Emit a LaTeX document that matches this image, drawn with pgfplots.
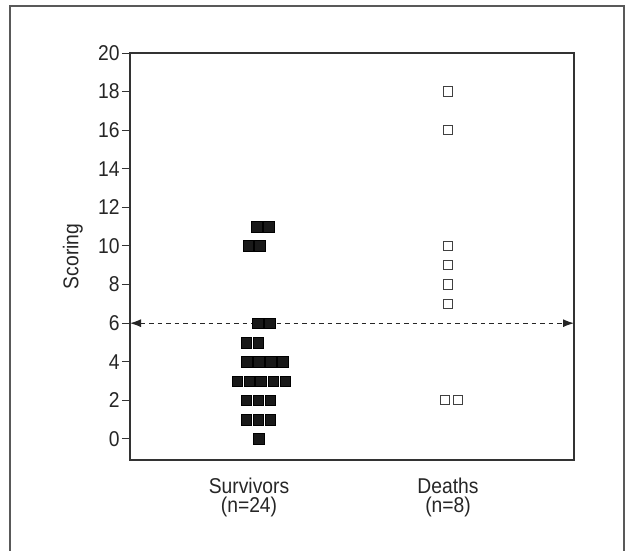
\documentclass[border=0pt]{standalone}
\usepackage{fontspec}
\setmainfont{Liberation Sans}[FakeStretch=0.9]
\usepackage{pgfplots}
\pgfplotsset{compat=1.18}
\usetikzlibrary{arrows.meta}

\begin{document}
\begin{tikzpicture}
\path[use as bounding box] (0,0) rectangle (626bp,-551bp);
\draw[line width=1.3bp, color=black!65] (10bp,-6bp) rectangle (624bp,-580bp);
\begin{axis}[
    at={(130bp,-460bp)}, anchor=south west,
    scale only axis, width=444bp, height=407bp,
    xmin=0.402, xmax=2.633, ymin=-1.09, ymax=20,
    axis line style={line width=1.2bp, color=black!80},
    tick align=outside, major tick length=8bp,
    tick style={line width=1bp, color=black!80},
    ytick={0,2,...,20}, ytick pos=left,
    xtick={1,2}, x tick style={draw=none},
    xticklabels={{Survivors\\(n=24)},{Deaths\\(n=8)}},
    xticklabel style={align=center, font=\fontsize{21.5}{20}\selectfont, color=black!85, yshift=-6bp},
    yticklabel style={font=\fontsize{21.5}{21}\selectfont, color=black!85, xshift=1bp},
    /pgf/number format/assume math mode=true,
    ylabel={Scoring},
    every axis y label/.style={at={([xshift=-47bp]axis description cs:0,0.5)},
        rotate=90, anchor=south, inner sep=0pt,
        font=\fontsize{21.5}{21}\selectfont, color=black!85},
    clip=false,
]
% Survivors (filled squares)
\addplot[only marks, mark=square*, mark size=5.3bp,
    mark options={fill=black!90, draw=none}] coordinates {
(1.050,0)
(0.986,1) (1.046,1) (1.106,1)
(0.986,2) (1.046,2) (1.106,2)
(0.940,3) (1.000,3) (1.060,3) (1.121,3) (1.181,3)
(0.988,4) (1.048,4) (1.108,4) (1.168,4)
(0.986,5) (1.046,5)
(1.045,6) (1.105,6)
(0.995,10) (1.055,10)
(1.039,11) (1.099,11)
};
% Deaths (open squares)
\addplot[only marks, mark=square, mark size=4.6bp,
    mark options={draw=black!75, line width=1bp}] coordinates {
(1.998,18) (1.998,16) (1.998,10) (1.998,9) (1.998,8) (1.998,7)
(1.985,2) (2.052,2)
};
\draw[line width=1bp, color=black!85, dash pattern=on 4.5bp off 4bp,
    {Latex[length=11bp,width=8bp]}-{Latex[length=11bp,width=8bp]}]
    (axis cs:0.402,6) -- (axis cs:2.633,6);
\end{axis}
\end{tikzpicture}
\end{document}
